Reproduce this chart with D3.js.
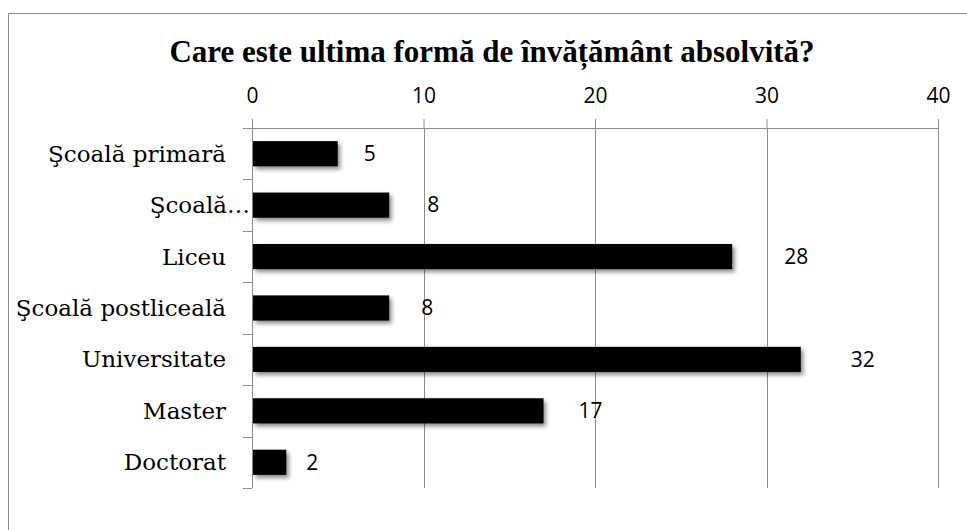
<!DOCTYPE html>
<html>
<head>
<meta charset="utf-8">
<script src="https://cdn.jsdelivr.net/npm/d3@7"></script>
<style>
  body { margin: 0; background: #fff; }
  svg { display: block; }
</style>
</head>
<body>
<div id="chart"></div>
<script>
// data
const categories = ["Şcoală primară", "Şcoală gimnazială", "Liceu", "Şcoală postliceală", "Universitate", "Master", "Doctorat"];
const shownLabels = ["Şcoală primară", "Şcoală…", "Liceu", "Şcoală postliceală", "Universitate", "Master", "Doctorat"];
const values = [5, 8, 28, 8, 32, 17, 2];
const tickValues = [0, 10, 20, 30, 40];
const title = "Care este ultima formă de învățământ absolvită?";
// the value labels sit at uneven distances from the bar ends in the original
const labelDx = [32, 44, 64, 38, 62, 47, 26];

const width = 967, height = 530;
const margin = { top: 128, right: 29, bottom: 42, left: 252 };

const svg = d3.select("#chart").append("svg")
    .attr("width", width)
    .attr("height", height);

// drop shadow for the bars
const defs = svg.append("defs");
defs.append("filter")
    .attr("id", "shadow")
    .attr("x", "-10%").attr("y", "-30%")
    .attr("width", "130%").attr("height", "180%")
  .append("feDropShadow")
    .attr("dx", 2.5)
    .attr("dy", 3)
    .attr("stdDeviation", 2)
    .attr("flood-color", "#000")
    .attr("flood-opacity", 0.45);

// outer chart frame (right and bottom edges fall outside the picture)
svg.append("rect")
    .attr("x", 8.5).attr("y", 13.5)
    .attr("width", 1000).attr("height", 600)
    .attr("fill", "none")
    .attr("stroke", "#8c8c8c")
    .attr("stroke-width", 1);

const xScale = d3.scaleLinear()
    .domain([0, 40])
    .range([margin.left, width - margin.right]);

const yScale = d3.scaleBand()
    .domain(categories)
    .range([margin.top, height - margin.bottom])
    .paddingInner(0.51)
    .paddingOuter(0.255);

const yBands = d3.scaleBand()
    .domain(categories)
    .range([margin.top, height - margin.bottom]);

// title
svg.append("text")
    .attr("x", 492)
    .attr("y", 62)
    .attr("text-anchor", "middle")
    .attr("font-family", "'Liberation Serif', serif")
    .attr("font-weight", "bold")
    .attr("font-size", 31)
    .attr("fill", "#000")
    .text(title);

// vertical gridlines
svg.append("g")
    .selectAll("line")
    .data(tickValues.filter(d => d > 0))
    .enter().append("line")
    .attr("x1", d => Math.round(xScale(d)) + 0.5)
    .attr("x2", d => Math.round(xScale(d)) + 0.5)
    .attr("y1", margin.top)
    .attr("y2", height - margin.bottom)
    .attr("stroke", "#8c8c8c");

// top axis
const xAxis = svg.append("g")
    .attr("transform", `translate(0,${margin.top})`)
    .call(d3.axisTop(xScale).tickValues(tickValues).tickSize(9).tickPadding(16).tickSizeOuter(0));
xAxis.select(".domain").attr("stroke", "#8c8c8c");
xAxis.selectAll(".tick line").attr("stroke", "#8c8c8c");
xAxis.selectAll(".tick text")
    .attr("font-family", "'Open Sans', sans-serif")
    .attr("font-size", 21)
    .attr("fill", "#000");

// left axis: ticks on the band boundaries
const yAxisG = svg.append("g");
yAxisG.append("line")
    .attr("x1", margin.left + 0.5).attr("x2", margin.left + 0.5)
    .attr("y1", margin.top).attr("y2", height - margin.bottom)
    .attr("stroke", "#8c8c8c");
const boundaries = categories.map(c => yBands(c)).concat([height - margin.bottom]);
yAxisG.selectAll("line.tk")
    .data(boundaries)
    .enter().append("line")
    .attr("class", "tk")
    .attr("x1", margin.left - 9).attr("x2", margin.left)
    .attr("y1", d => Math.round(d) + 0.5)
    .attr("y2", d => Math.round(d) + 0.5)
    .attr("stroke", "#8c8c8c");

// category labels
svg.append("g")
    .selectAll("text")
    .data(categories)
    .enter().append("text")
    .attr("x", (d, i) => i === 1 ? margin.left - 2 : margin.left - 26)
    .attr("y", d => yBands(d) + yBands.bandwidth() / 2)
    .attr("dy", "0.35em")
    .attr("text-anchor", "end")
    .attr("font-family", "'DejaVu Serif', serif")
    .attr("font-size", 23)
    .attr("fill", "#000")
    .text((d, i) => shownLabels[i]);

// bars
svg.append("g")
    .selectAll("rect")
    .data(values)
    .enter().append("rect")
    .attr("x", xScale(0) + 1)
    .attr("y", (d, i) => yScale(categories[i]))
    .attr("width", d => xScale(d) - xScale(0) - 1)
    .attr("height", yScale.bandwidth())
    .attr("fill", "#000")
    .attr("filter", "url(#shadow)");

// value labels
svg.append("g")
    .selectAll("text")
    .data(values)
    .enter().append("text")
    .attr("x", (d, i) => xScale(d) + labelDx[i])
    .attr("y", (d, i) => yBands(categories[i]) + yBands.bandwidth() / 2)
    .attr("dy", "0.35em")
    .attr("text-anchor", "middle")
    .attr("font-family", "'Open Sans', sans-serif")
    .attr("font-size", 21)
    .attr("fill", "#000")
    .text(d => d);
</script>
</body>
</html>
